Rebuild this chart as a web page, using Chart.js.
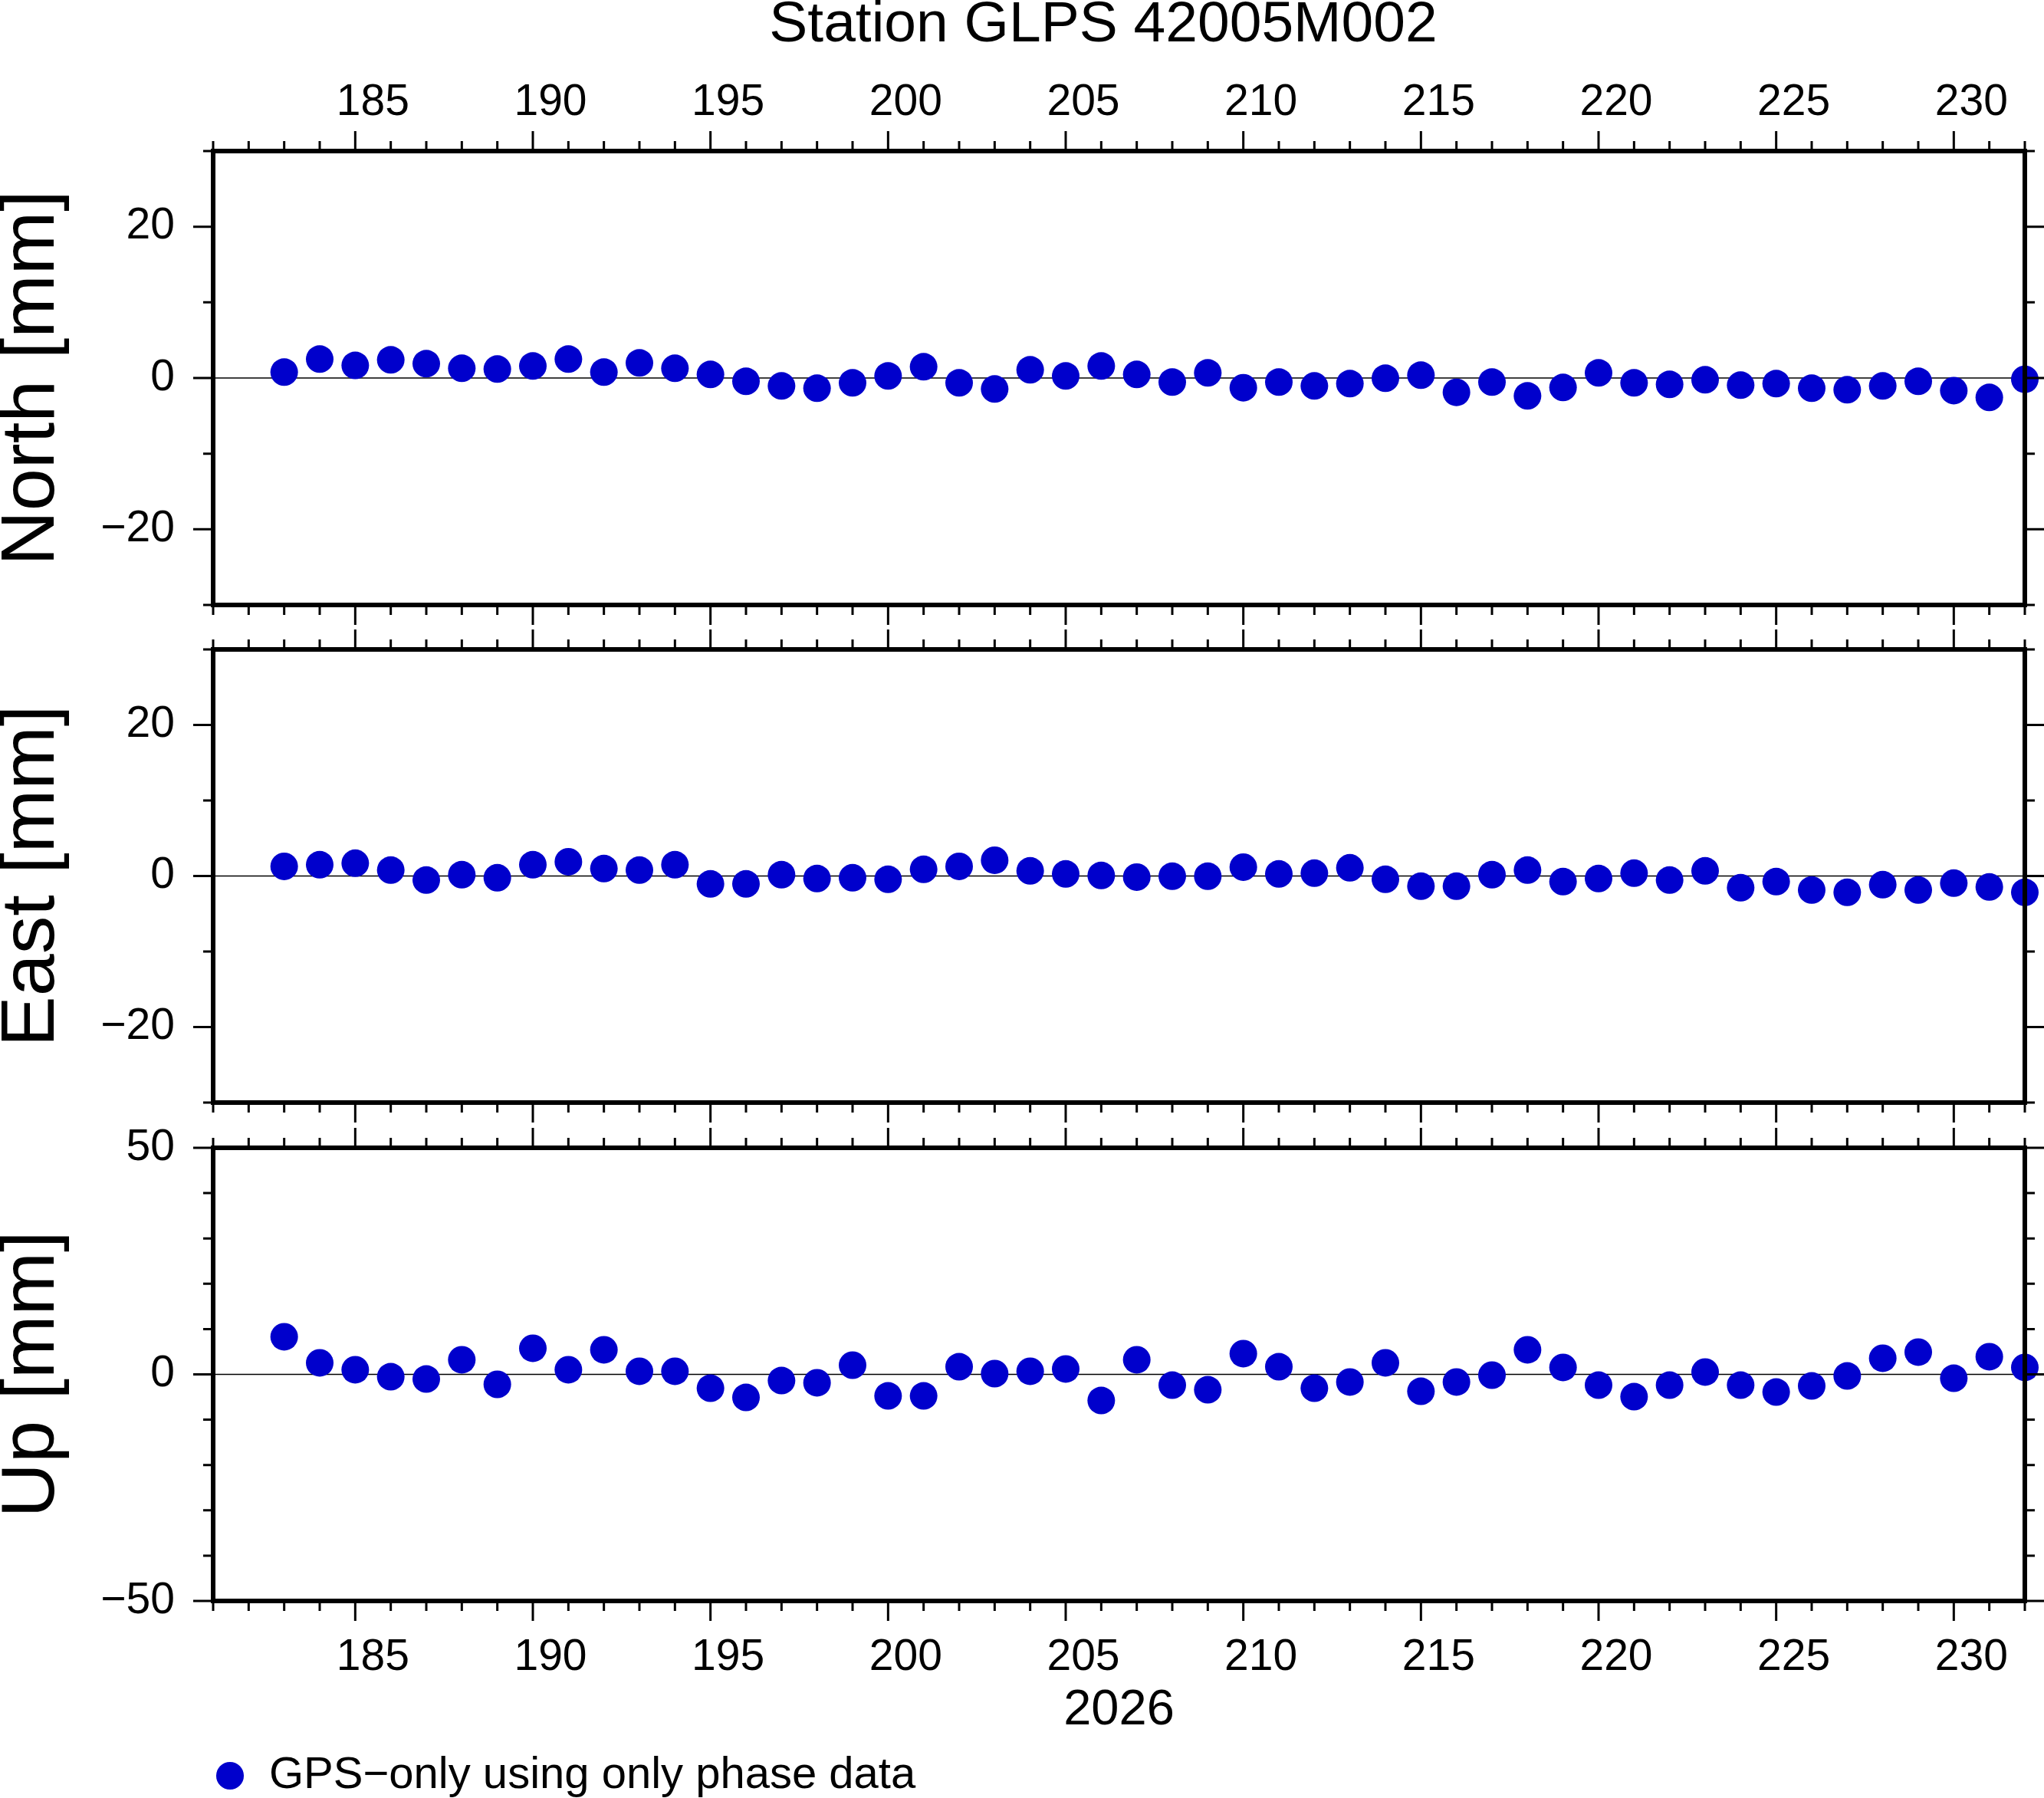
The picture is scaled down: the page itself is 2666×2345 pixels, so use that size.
<!DOCTYPE html>
<html>
<head>
<meta charset="utf-8">
<script src="https://cdn.jsdelivr.net/npm/chart.js@4.4.1/dist/chart.umd.min.js"></script>
<style>
  html, body { margin: 0; padding: 0; background: #fff; width: 2666px; height: 2345px; overflow: hidden; position: relative; }
  canvas { position: absolute; left: 0; }
</style>
</head>
<body>
<canvas id="cNorth" width="2666" height="879" style="top:0px"></canvas>
<canvas id="cEast" width="2666" height="771" style="top:757px"></canvas>
<canvas id="cUp" width="2666" height="940" style="top:1407px"></canvas>
<script>
// ---------------- data ----------------
const titleText = 'Station GLPS 42005M002';
const seriesLabel = 'GPS\u2212only using only phase data';
const xTitle = '2026';

const days = [183,184,185,186,187,188,189,190,191,192,193,194,195,196,197,198,199,200,201,202,
              203,204,205,206,207,208,209,210,211,212,213,214,215,216,217,218,219,220,221,222,
              223,224,225,226,227,228,229,230,231,232];

const north = [0.78,2.5,1.67,2.4,1.89,1.28,1.18,1.59,2.5,0.78,2.0,1.28,0.47,-0.44,-1.05,-1.35,-0.64,0.27,1.49,-0.64,
               -1.45,1.08,0.27,1.59,0.47,-0.54,0.68,-1.28,-0.54,-1.05,-0.74,-0.03,0.37,-1.89,-0.54,-2.36,-1.25,0.68,-0.64,-0.84,
               -0.24,-0.95,-0.74,-1.35,-1.55,-1.05,-0.44,-1.66,-2.57,-0.17];

const east = [1.28,1.49,1.69,0.78,-0.54,0.17,-0.24,1.49,1.89,0.98,0.78,1.49,-1.05,-1.05,0.17,-0.34,-0.24,-0.44,0.88,1.28,
              2.09,0.68,0.27,0.07,-0.14,-0.03,-0.03,1.18,0.27,0.37,1.08,-0.44,-1.35,-1.35,0.17,0.78,-0.74,-0.34,0.37,-0.54,
              0.68,-1.55,-0.74,-1.86,-2.16,-1.15,-1.86,-0.95,-1.45,-2.16];

const up = [8.3,2.54,1.02,-0.51,-1.02,3.22,-2.2,5.76,1.02,5.42,0.68,0.68,-3.05,-5.08,-1.36,-1.86,2.03,-4.75,-4.75,1.69,
            0.17,0.68,1.19,-5.76,3.22,-2.37,-3.39,4.58,1.69,-3.05,-1.69,2.54,-3.73,-1.69,-0.17,5.42,1.53,-2.37,-4.92,-2.37,
            0.51,-2.37,-3.9,-2.54,-0.34,3.56,4.92,-0.85,3.9,1.53];

const xRange = [181, 232];
const xTickLabels = [185,190,195,200,205,210,215,220,225,230];
const xMinorStep = 1;

const neRange = [-30, 30];
const neTickLabels = [-20, 0, 20];
const upRange = [-50, 50];
const upTickLabels = [-50, 0, 50];
const yMinorStep = 10;

// ---------------- style ----------------
const FONT = "'Liberation Sans', Arial, Helvetica, sans-serif";
const DOT = '#0000CC';
const Y_TICK_FONT = { size: 57, family: FONT, lineHeight: 1.2 };
Chart.defaults.font.family = FONT;
Chart.defaults.color = '#000';

const fmtMinus = v => (v < 0 ? '\u2212' + Math.abs(v) : String(v));

// widest y tick label (used to right-align mirrored labels in the top panel)
function widestLabel(values) {
  const c = document.createElement('canvas').getContext('2d');
  c.font = `${Y_TICK_FONT.size}px ${FONT}`;
  return Math.max(...values.map(v => c.measureText(fmtMinus(v)).width));
}

// frame, tick marks and zero line drawn from the chart's own scales
const framePlugin = {
  id: 'frame',
  beforeDatasetsDraw(chart) {
    const { ctx, chartArea: a, scales: { y } } = chart;
    const y0 = y.getPixelForValue(0);
    ctx.save();
    ctx.strokeStyle = '#000';
    ctx.lineWidth = 1.3;
    ctx.beginPath();
    ctx.moveTo(a.left, y0);
    ctx.lineTo(a.right, y0);
    ctx.stroke();
    ctx.restore();
  },
  afterDraw(chart, args, opts) {
    const { ctx, chartArea: a, scales: { x, y } } = chart;
    const MINOR = 13, MAJOR = 26;
    ctx.save();
    ctx.strokeStyle = '#000';
    ctx.lineWidth = 3;
    ctx.beginPath();
    for (let v = x.min; v <= x.max + 1e-9; v += xMinorStep) {
      const px = x.getPixelForValue(v);
      const len = opts.xMajor.includes(v) ? MAJOR : MINOR;
      ctx.moveTo(px, a.top); ctx.lineTo(px, a.top - len);
      ctx.moveTo(px, a.bottom); ctx.lineTo(px, a.bottom + len);
    }
    for (let v = y.min; v <= y.max + 1e-9; v += yMinorStep) {
      const py = y.getPixelForValue(v);
      const len = opts.yMajor.includes(v) ? MAJOR : MINOR;
      ctx.moveTo(a.left, py); ctx.lineTo(a.left - len, py);
      ctx.moveTo(a.right, py); ctx.lineTo(a.right + len, py);
    }
    ctx.stroke();
    ctx.lineWidth = 6;
    ctx.strokeRect(a.left, a.top, a.right - a.left, a.bottom - a.top);
    ctx.restore();
  }
};

function panel(id, cfg) {
  const yTicksOpt = Object.assign({
    padding: 50,
    color: '#000',
    font: Y_TICK_FONT,
    callback: v => fmtMinus(v)
  }, cfg.yTicksOpt || {});
  return new Chart(document.getElementById(id), {
    type: 'scatter',
    data: {
      datasets: [{
        label: seriesLabel,
        data: days.map((d, i) => ({ x: d, y: cfg.values[i] })),
        backgroundColor: DOT,
        borderWidth: 0,
        pointRadius: 18,
        pointHoverRadius: 18,
        pointStyle: 'circle',
        clip: false
      }]
    },
    options: {
      responsive: false,
      animation: false,
      events: [],
      layout: { padding: cfg.padding },
      plugins: {
        legend: cfg.legend || { display: false },
        title: cfg.title || { display: false },
        tooltip: { enabled: false },
        frame: { xMajor: xTickLabels, yMajor: cfg.yTicks }
      },
      scales: {
        x: Object.assign({
          type: 'linear',
          min: xRange[0],
          max: xRange[1],
          grid: { display: false, drawTicks: false, tickLength: 0 },
          border: { display: false },
          afterBuildTicks: s => { s.ticks = xTickLabels.map(v => ({ value: v })); }
        }, cfg.x),
        y: {
          type: 'linear',
          position: 'left',
          min: cfg.range[0],
          max: cfg.range[1],
          grid: { display: false, drawTicks: false, tickLength: 0 },
          border: { display: false },
          afterBuildTicks: s => { s.ticks = cfg.yTicks.map(v => ({ value: v })); },
          afterFit: s => { s.width = cfg.yWidth; },
          ticks: yTicksOpt,
          title: {
            display: true,
            text: cfg.yTitle,
            color: '#000',
            font: { size: 99, family: FONT, lineHeight: 0.86 },
            padding: { top: cfg.yTitlePad, bottom: 0 }
          }
        }
      }
    },
    plugins: [framePlugin]
  });
}

const xTickFont = { size: 57, family: FONT, lineHeight: 1.2 };

// top panel: padded on the left so the title is centred like the reference;
// its tick labels are mirrored (unclipped) and right-aligned at the same spot.
const NORTH_PAD_LEFT = 237;
panel('cNorth', {
  values: north, range: neRange, yTicks: neTickLabels, yTitle: 'North [mm]',
  padding: { left: NORTH_PAD_LEFT, right: 25, top: 0, bottom: 90 },
  yWidth: 278 - NORTH_PAD_LEFT, yTitlePad: -NORTH_PAD_LEFT,
  yTicksOpt: { mirror: true, crossAlign: 'far', padding: -50 - widestLabel(neTickLabels) },
  title: {
    display: true, text: titleText, fullSize: true, color: '#000',
    font: { size: 75, family: FONT, lineHeight: 0.88, weight: 'normal' }, padding: 0
  },
  x: {
    position: 'top', display: true,
    afterFit: s => { s.height = 131; },
    ticks: { padding: 29, labelOffset: 23, maxRotation: 0, autoSkip: false, color: '#000', font: xTickFont }
  }
});

panel('cEast', {
  values: east, range: neRange, yTicks: neTickLabels, yTitle: 'East [mm]',
  padding: { left: 0, right: 25, top: 90, bottom: 90 }, yWidth: 278, yTitlePad: 0,
  x: { display: false }
});

panel('cUp', {
  values: up, range: upRange, yTicks: upTickLabels, yTitle: 'Up [mm]',
  padding: { left: 0, right: 25, top: 90, bottom: 0 }, yWidth: 278, yTitlePad: 0,
  legend: {
    display: true, position: 'bottom', align: 'start', fullSize: false, maxHeight: 60,
    labels: {
      usePointStyle: true, pointStyle: 'circle', boxWidth: 44, boxHeight: 25.5, padding: 0,
      color: '#000', font: { size: 58, family: FONT }
    }
  },
  x: {
    position: 'bottom', display: true,
    afterFit: s => { s.height = 199; },
    ticks: { padding: 40, labelOffset: 23, maxRotation: 0, autoSkip: false, color: '#000', font: xTickFont },
    title: {
      display: true, text: xTitle, color: '#000',
      font: { size: 65, family: FONT, lineHeight: 1 },
      padding: { top: 0, bottom: 23 }
    }
  }
});
</script>
</body>
</html>
